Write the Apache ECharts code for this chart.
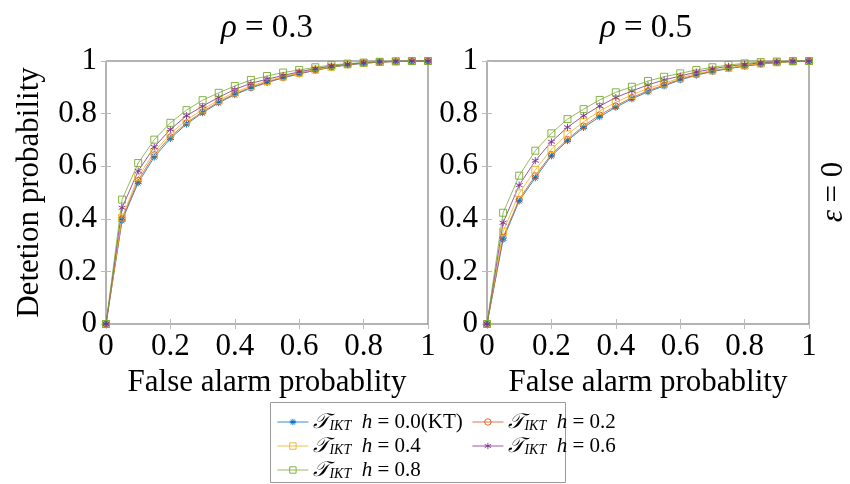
<!DOCTYPE html>
<html>
<head>
<meta charset="utf-8">
<script src="https://cdn.jsdelivr.net/npm/echarts@6/dist/echarts.min.js"></script>
<style>html,body{margin:0;padding:0;background:#fff;}#chart{width:850px;height:484px;}</style>
</head>
<body>
<div id="chart"></div>
<script>
// ---- data ----
const falseAlarm = [0, 0.05, 0.1, 0.15, 0.2, 0.25, 0.3, 0.35, 0.4, 0.45, 0.5, 0.55, 0.6, 0.65, 0.7, 0.75, 0.8, 0.85, 0.9, 0.95, 1];
const hLabels = ['0.0(KT)', '0.2', '0.4', '0.6', '0.8'];
const panelTitles = ['0.3', '0.5'];

// rho = 0.3
const rho03_h00 = [0, 0.394, 0.537, 0.635, 0.705, 0.760, 0.803, 0.841, 0.872, 0.897, 0.918, 0.936, 0.951, 0.964, 0.976, 0.985, 0.991, 0.996, 0.998, 0.999, 1];
const rho03_h02 = [0, 0.400, 0.546, 0.644, 0.712, 0.765, 0.807, 0.845, 0.875, 0.900, 0.920, 0.938, 0.953, 0.966, 0.977, 0.986, 0.992, 0.996, 0.998, 0.999, 1];
const rho03_h04 = [0, 0.405, 0.559, 0.654, 0.724, 0.775, 0.816, 0.851, 0.881, 0.905, 0.924, 0.941, 0.955, 0.967, 0.978, 0.987, 0.992, 0.996, 0.998, 0.999, 1];
const rho03_h06 = [0, 0.442, 0.582, 0.673, 0.740, 0.792, 0.828, 0.862, 0.892, 0.915, 0.931, 0.945, 0.959, 0.971, 0.981, 0.988, 0.993, 0.997, 0.999, 1, 1];
const rho03_h08 = [0, 0.473, 0.612, 0.701, 0.765, 0.813, 0.851, 0.879, 0.905, 0.928, 0.943, 0.956, 0.966, 0.976, 0.985, 0.990, 0.994, 0.997, 0.999, 1, 1];

// rho = 0.5
const rho05_h00 = [0, 0.322, 0.468, 0.556, 0.639, 0.697, 0.747, 0.788, 0.824, 0.856, 0.883, 0.905, 0.928, 0.946, 0.960, 0.971, 0.980, 0.988, 0.994, 0.998, 1];
const rho05_h02 = [0, 0.330, 0.474, 0.564, 0.645, 0.702, 0.753, 0.795, 0.829, 0.861, 0.887, 0.909, 0.931, 0.948, 0.962, 0.972, 0.981, 0.989, 0.994, 0.998, 1];
const rho05_h04 = [0, 0.351, 0.497, 0.586, 0.665, 0.721, 0.769, 0.810, 0.843, 0.871, 0.896, 0.915, 0.936, 0.952, 0.964, 0.974, 0.983, 0.990, 0.995, 0.998, 1];
const rho05_h06 = [0, 0.385, 0.528, 0.621, 0.693, 0.748, 0.792, 0.829, 0.861, 0.886, 0.909, 0.928, 0.943, 0.958, 0.970, 0.980, 0.987, 0.993, 0.997, 0.999, 1];
const rho05_h08 = [0, 0.423, 0.564, 0.659, 0.725, 0.779, 0.817, 0.852, 0.881, 0.902, 0.924, 0.940, 0.953, 0.966, 0.976, 0.985, 0.991, 0.996, 0.998, 1, 1];

const panels = [
  [rho03_h00, rho03_h02, rho03_h04, rho03_h06, rho03_h08],
  [rho05_h00, rho05_h02, rho05_h04, rho05_h06, rho05_h08]
];

// ---- styles ----
const FONT = "'Liberation Serif', 'Times New Roman', serif";
const FS = 31;
const colors = ['#0072BD', '#D95319', '#EDB120', '#7E2F8E', '#77AC30'];
const STAR = 'path://M0,-5L0,5M-4.76,-1.55L4.76,1.55M-4.76,1.55L4.76,-1.55M-2.94,4.05L2.94,-4.05M-2.94,-4.05L2.94,4.05';
const ASTER = 'path://M0,-5L0,5M-4.33,-2.5L4.33,2.5M-4.33,2.5L4.33,-2.5';
const symbols = [STAR, 'circle', 'rect', ASTER, 'rect'];
const symSizes = [7, 6, 7, 7, 7];

const gridLefts = [106, 487];
const grids = gridLefts.map(l => ({
  left: l, top: 61, width: 322, height: 263, show: true,
  borderColor: '#666', borderWidth: 1, backgroundColor: 'transparent'
}));

const xAxes = [], yAxes = [];
gridLefts.forEach((l, gi) => {
  xAxes.push({
    type: 'value', gridIndex: gi, min: 0, max: 1, interval: 0.2, position: 'bottom',
    axisLine: {show: false}, splitLine: {show: false},
    axisTick: {inside: true, length: 5, lineStyle: {color: '#bbb'}},
    axisLabel: {fontFamily: FONT, fontSize: FS, color: '#000', margin: 7},
    name: 'False alarm probablity', nameLocation: 'middle', nameGap: 40,
    nameTextStyle: {fontFamily: FONT, fontSize: FS, color: '#000'}
  });
  xAxes.push({
    type: 'value', gridIndex: gi, min: 0, max: 1, interval: 0.2, position: 'top',
    axisLine: {show: false}, splitLine: {show: false},
    axisTick: {inside: true, length: 5, lineStyle: {color: '#bbb'}},
    axisLabel: {show: false}
  });
  yAxes.push({
    type: 'value', gridIndex: gi, min: 0, max: 1, interval: 0.2, position: 'left',
    axisLine: {show: false}, splitLine: {show: false},
    axisTick: {inside: true, length: 5, lineStyle: {color: '#bbb'}},
    axisLabel: {fontFamily: FONT, fontSize: FS, color: '#000', margin: 9},
    name: gi === 0 ? 'Detetion probability' : '', nameLocation: 'middle', nameGap: 61,
    nameTextStyle: {fontFamily: FONT, fontSize: FS, color: '#000'}
  });
  yAxes.push({
    type: 'value', gridIndex: gi, min: 0, max: 1, interval: 0.2, position: 'right',
    axisLine: {show: false}, splitLine: {show: false},
    axisTick: {inside: true, length: 5, lineStyle: {color: '#bbb'}},
    axisLabel: {show: false}
  });
});

const series = [];
panels.forEach((sets, gi) => {
  sets.forEach((vals, si) => {
    series.push({
      type: 'line', name: hLabels[si], color: colors[si],
      xAxisIndex: gi * 2, yAxisIndex: gi * 2,
      data: falseAlarm.map((x, i) => [x, vals[i]]),
      symbol: symbols[si], symbolSize: symSizes[si], showSymbol: true,
      clip: false, animation: false,
      lineStyle: {color: colors[si], width: 0.8},
      itemStyle: {color: 'rgba(255,255,255,0)', borderColor: colors[si], borderWidth: 0.9}
    });
  });
});

const legendRich = {
  t: {fontFamily: FONT, fontSize: 21, color: '#000', fontStyle: 'italic'},
  s: {fontFamily: FONT, fontSize: 14, fontStyle: 'italic', color: '#000', padding: [8, 0, 0, 0]},
  h: {fontFamily: FONT, fontSize: 21, fontStyle: 'italic', color: '#000'},
  n: {fontFamily: FONT, fontSize: 21, color: '#000'}
};
const legendFmt = name => '{t|𝒯}{s|IKT}{n|  }{h|h}{n| = ' + name + '}';
const legendBase = {
  orient: 'vertical', top: 411, padding: 0, height: 80, itemWidth: 31, itemHeight: 8, itemGap: 2,
  formatter: legendFmt, selectedMode: false,
  itemStyle: {color: 'rgba(255,255,255,0)', borderColor: 'inherit', borderWidth: 0.9},
  lineStyle: {width: 0.8, color: 'inherit'},
  textStyle: {fontFamily: FONT, fontSize: 21, color: '#000', lineHeight: 22, rich: legendRich}
};

const option = {
  backgroundColor: '#fff',
  animation: false,
  grid: grids,
  xAxis: xAxes,
  yAxis: yAxes,
  series: series,
  legend: [
    Object.assign({}, legendBase, {left: 277, data: [hLabels[0], hLabels[2], hLabels[4]]}),
    Object.assign({}, legendBase, {left: 472, data: [hLabels[1], hLabels[3]]})
  ],
  graphic: [
    {type: 'rect', shape: {x: 270.5, y: 402.5, width: 295, height: 80}, style: {fill: 'none', stroke: '#999', lineWidth: 1}, z: 0, silent: true},
    {type: 'text', x: 267, y: 28, style: {text: '{i|ρ} = ' + panelTitles[0], textAlign: 'center', textVerticalAlign: 'middle', font: '33px ' + FONT, fill: '#000', rich: {i: {fontStyle: 'italic', fontFamily: FONT, fontSize: 33}}}},
    {type: 'text', x: 646, y: 28, style: {text: '{i|ρ} = ' + panelTitles[1], textAlign: 'center', textVerticalAlign: 'middle', font: '33px ' + FONT, fill: '#000', rich: {i: {fontStyle: 'italic', fontFamily: FONT, fontSize: 33}}}},
    {type: 'text', x: 834, y: 192, rotation: Math.PI / 2, style: {text: '{i|ε} = 0', textAlign: 'center', textVerticalAlign: 'middle', font: FS + 'px ' + FONT, fill: '#000', rich: {i: {fontStyle: 'italic', fontFamily: FONT, fontSize: FS}}}}
  ]
};

const chart = echarts.init(document.getElementById('chart'), null, {renderer: 'canvas'});
chart.setOption(option);
</script>
</body>
</html>
